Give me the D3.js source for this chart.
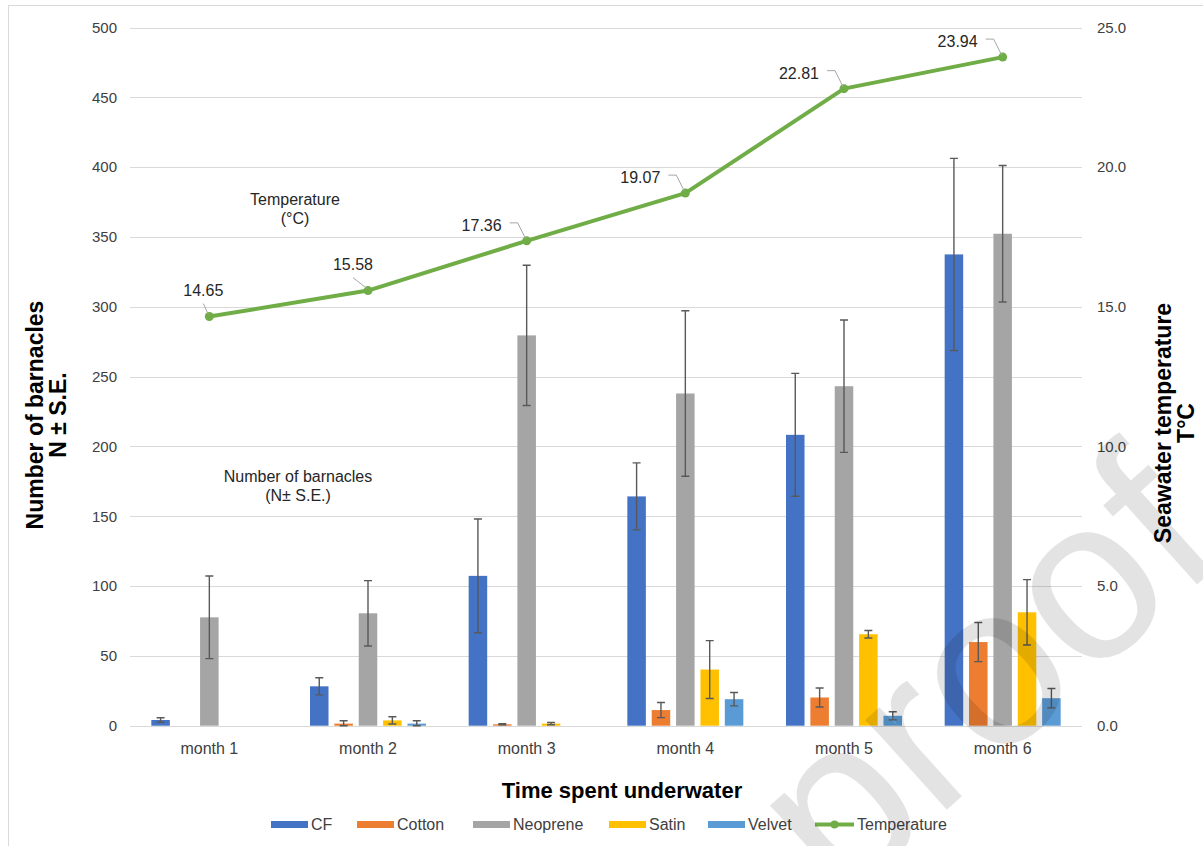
<!DOCTYPE html>
<html>
<head>
<meta charset="utf-8">
<script src="https://cdn.jsdelivr.net/npm/d3@7"></script>
<style>
  html, body { margin: 0; padding: 0; background: #fff; }
  svg { display: block; font-family: Arial, 'Liberation Sans', sans-serif; }
</style>
</head>
<body>
<div id="chart"></div>
<script>
// data
var months = ['month 1', 'month 2', 'month 3', 'month 4', 'month 5', 'month 6'];
var seriesNames = ['CF', 'Cotton', 'Neoprene', 'Satin', 'Velvet'];
var seriesColors = ['#4472C4', '#ED7D31', '#A5A5A5', '#FFC000', '#5B9BD5'];
var cf = [4.1, 28.2, 107.3, 164.2, 208.3, 337.5];
var cfErr = [1.6, 6.1, 40.7, 24.0, 44.0, 68.8];
var cotton = [0, 1.5, 1.0, 11.2, 20.2, 59.9];
var cottonErr = [0, 2.0, 0.4, 5.4, 6.8, 14.0];
var neoprene = [77.6, 80.5, 279.5, 237.9, 243.1, 352.3];
var neopreneErr = [29.6, 23.4, 50.2, 59.3, 47.4, 48.9];
var satin = [0, 3.8, 1.5, 40.2, 65.5, 81.2];
var satinErr = [0, 2.6, 0.8, 20.7, 2.7, 23.4];
var velvet = [0, 1.5, 0, 19.0, 7.1, 19.7];
var velvetErr = [0, 2.0, 0, 4.8, 2.9, 6.9];
var temperature = [14.65, 15.58, 17.36, 19.07, 22.81, 23.94];
var leftTicks = [0, 50, 100, 150, 200, 250, 300, 350, 400, 450, 500];
var rightTicks = [0, 5, 10, 15, 20, 25];

(function(){
  'use strict';

  var width = 1203, height = 846;
  var plot = {left: 130, right: 1082, top: 27.5, bottom: 725.7};
  var tempColor = '#70AD47';

  var svg = d3.select('#chart').append('svg')
              .attr('width', width).attr('height', height);

  // outer chart border
  svg.append('rect')
     .attr('x', 8.5).attr('y', 5.5).attr('width', 1210).attr('height', 860)
     .attr('fill', '#fff').attr('stroke', '#d9d9d9');

  var x0 = d3.scaleBand().domain(months).range([plot.left, plot.right]);
  var x1 = d3.scaleBand().domain(seriesNames).range([-58, 58]).paddingInner(0.24);
  var y = d3.scaleLinear().domain([0, 500]).range([plot.bottom, plot.top]);
  var yT = d3.scaleLinear().domain([0, 25]).range([plot.bottom, plot.top]);

  // gridlines
  svg.append('g').selectAll('line').data(leftTicks).enter().append('line')
     .attr('x1', plot.left).attr('x2', plot.right)
     .attr('y1', function(d){ return Math.round(y(d)) + 0.5; })
     .attr('y2', function(d){ return Math.round(y(d)) + 0.5; })
     .attr('stroke', '#d9d9d9').attr('stroke-width', 1);

  // left axis
  var la = svg.append('g').attr('transform', 'translate(' + plot.left + ',0)')
              .call(d3.axisLeft(y).tickValues(leftTicks).tickSize(0).tickPadding(13));
  la.select('.domain').remove();
  la.selectAll('text').attr('font-size', '15px').attr('fill', '#404040')
    .attr('font-family', 'Arial, Liberation Sans, sans-serif');

  // right axis
  var ra = svg.append('g').attr('transform', 'translate(' + plot.right + ',0)')
              .call(d3.axisRight(yT).tickValues(rightTicks).tickFormat(d3.format('.1f'))
                    .tickSize(0).tickPadding(15));
  ra.select('.domain').remove();
  ra.selectAll('text').attr('font-size', '15px').attr('fill', '#404040')
    .attr('font-family', 'Arial, Liberation Sans, sans-serif');

  // bottom axis
  var ba = svg.append('g').attr('transform', 'translate(0,' + plot.bottom + ')')
              .call(d3.axisBottom(x0).tickSize(0).tickPadding(17));
  ba.select('.domain').remove();
  ba.selectAll('text').attr('font-size', '16px').attr('fill', '#404040')
    .attr('font-family', 'Arial, Liberation Sans, sans-serif');

  // bars
  var values = [cf, cotton, neoprene, satin, velvet];
  var errs = [cfErr, cottonErr, neopreneErr, satinErr, velvetErr];
  var barData = [];
  seriesNames.forEach(function(s, si){
    months.forEach(function(m, mi){
      barData.push({series: s, color: seriesColors[si], month: m,
                    value: values[si][mi], err: errs[si][mi]});
    });
  });
  var cx = function(d){ return x0(d.month) + x0.bandwidth() / 2 + x1(d.series); };

  svg.append('g').selectAll('rect').data(barData.filter(function(d){ return d.value > 0; }))
     .enter().append('rect')
     .attr('x', cx)
     .attr('y', function(d){ return y(d.value); })
     .attr('width', x1.bandwidth())
     .attr('height', function(d){ return y(0) - y(d.value); })
     .attr('fill', function(d){ return d.color; });

  // error bars
  var eb = svg.append('g').attr('stroke', '#595959').attr('stroke-width', 1.4).attr('fill', 'none');
  eb.selectAll('path').data(barData.filter(function(d){ return d.err > 0; }))
    .enter().append('path')
    .attr('d', function(d){
      var c = cx(d) + x1.bandwidth() / 2;
      var lo = y(Math.max(0, d.value - d.err)), hi = y(d.value + d.err);
      return 'M' + (c - 4) + ',' + hi + 'H' + (c + 4) +
             'M' + c + ',' + hi + 'V' + lo +
             'M' + (c - 4) + ',' + lo + 'H' + (c + 4);
    });

  // temperature line
  var tx = function(i){ return x0(months[i]) + x0.bandwidth() / 2; };
  var line = d3.line().x(function(d, i){ return tx(i); }).y(function(d){ return yT(d); });
  svg.append('path').datum(temperature)
     .attr('d', line).attr('fill', 'none')
     .attr('stroke', tempColor).attr('stroke-width', 4).attr('stroke-linejoin', 'round');
  svg.append('g').selectAll('circle').data(temperature).enter().append('circle')
     .attr('cx', function(d, i){ return tx(i); })
     .attr('cy', function(d){ return yT(d); })
     .attr('r', 4.5).attr('fill', tempColor);

  // data labels with leader lines
  temperature.forEach(function(t, i){
    var px = tx(i), py = yT(t);
    var lab = svg.append('text').text(d3.format('.2f')(t))
                 .attr('font-size', '16px').attr('fill', '#262626');
    var leader;
    if (i < 2) {
      var off = i === 0 ? -6 : -15;
      lab.attr('x', px + off).attr('y', py - 21).attr('text-anchor', 'middle');
      leader = 'M' + (px + off) + ',' + (py - 13) + 'L' + (px - 1) + ',' + (py - 2);
    } else {
      lab.attr('x', px - 25).attr('y', py - 10).attr('text-anchor', 'end');
      leader = 'M' + (px - 17) + ',' + (py - 18) + 'H' + (px - 9) + 'L' + (px - 1) + ',' + (py - 2);
    }
    svg.append('path').attr('d', leader).attr('fill', 'none')
       .attr('stroke', '#a6a6a6').attr('stroke-width', 1);
  });

  // in-chart notes
  var note = function(lines, x, yy){
    lines.forEach(function(l, k){
      svg.append('text').text(l).attr('x', x).attr('y', yy + k * 19)
         .attr('text-anchor', 'middle').attr('font-size', '16px').attr('fill', '#262626');
    });
  };
  note(['Temperature', '(°C)'], 295, 205);
  note(['Number of barnacles', '(N\u00b1 S.E.)'], 298, 482);

  // axis titles
  var title = function(lines, x, yy, rot, size){
    var g = svg.append('g').attr('transform', 'translate(' + x + ',' + yy + ')' + (rot ? ' rotate(' + rot + ')' : ''));
    lines.forEach(function(l, k){
      g.append('text').text(l).attr('x', 0).attr('y', k * 23)
       .attr('text-anchor', 'middle').attr('font-size', size)
       .attr('font-weight', 'bold').attr('fill', '#000');
    });
  };
  title(['Time spent underwater'], 622, 798, 0, '22px');
  title(['Number of barnacles', 'N \u00b1 S.E.'], 43, 415, -90, '23px');
  title(['Seawater temperature', 'T\u00b0C'], 1171, 423, -90, '23px');

  // legend
  var legendX = [271, 357, 473, 609, 708, 815];
  var lg = svg.append('g');
  seriesNames.forEach(function(s, i){
    lg.append('rect').attr('x', legendX[i]).attr('y', 821).attr('width', 37).attr('height', 7)
      .attr('fill', seriesColors[i]);
    lg.append('text').text(s).attr('x', legendX[i] + 40).attr('y', 830)
      .attr('font-size', '16px').attr('fill', '#404040');
  });
  lg.append('line').attr('x1', 815).attr('x2', 854).attr('y1', 824.5).attr('y2', 824.5)
    .attr('stroke', tempColor).attr('stroke-width', 4);
  lg.append('circle').attr('cx', 834.5).attr('cy', 824.5).attr('r', 4).attr('fill', tempColor);
  lg.append('text').text('Temperature').attr('x', 857).attr('y', 830)
    .attr('font-size', '16px').attr('fill', '#404040');

  // "proof" watermark
  svg.append('text').text('proof')
     .attr('transform', 'translate(840,906) rotate(-42)')
     .attr('font-size', '230px').attr('fill', '#000').attr('fill-opacity', 0.11)
     .attr('font-family', 'Arial, Liberation Sans, sans-serif');
})();
</script>
</body>
</html>
